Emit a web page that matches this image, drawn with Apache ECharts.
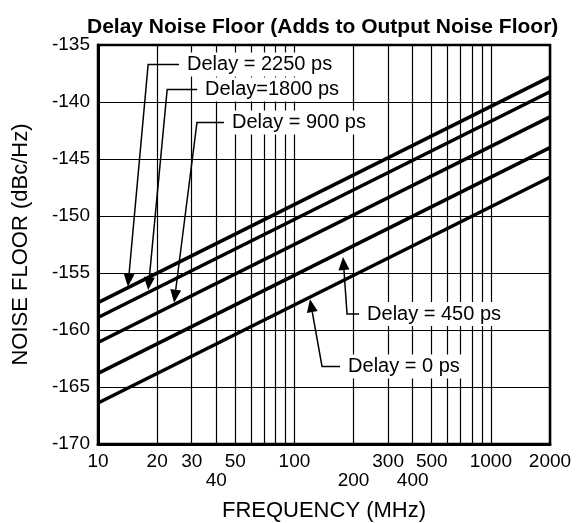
<!DOCTYPE html>
<html>
<head>
<meta charset="utf-8">
<title>Delay Noise Floor</title>
<script src="https://cdn.jsdelivr.net/npm/echarts@6/dist/echarts.min.js"></script>
<style>
  body { margin: 0; background: #fff; }
  #main { width: 577px; height: 523px; }
</style>
</head>
<body>
<div id="main"></div>
<script>
// frequency (MHz) at both ends of each line
var freq = [10, 2000];
// noise floor (dBc/Hz) at 10 MHz and 2000 MHz
var delay2250 = [-157.6, -137.8];
var delay1800 = [-158.9, -139.1];
var delay900 = [-161.1, -141.3];
var delay450 = [-163.8, -144.0];
var delay0 = [-166.4, -146.6];

// log grid and tick labels
var gridFreq = [10, 20, 30, 40, 50, 60, 70, 80, 90, 100, 200, 300, 400, 500, 600, 700, 800, 900, 1000, 2000];
var labelFreq = [10, 20, 30, 40, 50, 100, 200, 300, 400, 500, 1000, 2000];
var lowLabels = [40, 200, 400];

// callouts: text, arrow tip [MHz, dB], elbow [MHz, dB], text start (MHz)
var noteText = ['Delay = 2250 ps', 'Delay=1800 ps', 'Delay = 900 ps', 'Delay = 450 ps', 'Delay = 0 ps'];
var noteTip = [[14.2, -156.2], [18.0, -156.5], [24.4, -157.6], [176.8, -153.6], [120, -157.3]];
var noteElbow = [[18.0, -136.7], [22.5, -138.9], [31.9, -141.8], [185.3, -158.6], [138.2, -163.2]];
var noteStart = [28.4, 35.1, 48.1, 234.3, 187.5];

var FONT = "'Liberation Sans', Arial, sans-serif";
var lg = function (f) { return Math.log10(f); };

function toPairs(vals) {
  return freq.map(function (f, i) { return [lg(f), vals[i]]; });
}

var chart = echarts.init(document.getElementById('main'));

var lineStyle = { color: '#000', width: 3.5 };
var seriesList = [delay2250, delay1800, delay900, delay450, delay0].map(function (v) {
  return {
    type: 'line',
    data: toPairs(v),
    symbol: 'none',
    lineStyle: lineStyle,
    silent: true,
    z: 3
  };
});

var option = {
  animation: false,
  backgroundColor: '#fff',
  title: {
    text: 'Delay Noise Floor (Adds to Output Noise Floor)',
    left: 82,
    top: 12,
    textStyle: { fontFamily: FONT, fontSize: 21, fontWeight: 'bold', color: '#000' }
  },
  grid: {
    left: 98, right: 27, top: 45, bottom: 79,
    outerBoundsMode: 'none',
    show: true, borderColor: '#000', borderWidth: 2.5
  },
  xAxis: {
    type: 'value',
    min: lg(10),
    max: lg(2000),
    name: 'FREQUENCY (MHz)',
    nameLocation: 'middle',
    nameGap: 56,
    nameTextStyle: { fontFamily: FONT, fontSize: 22, color: '#000' },
    axisLine: { lineStyle: { color: '#000', width: 3 } },
    axisTick: { show: false, customValues: gridFreq.map(lg) },
    splitLine: { show: true, lineStyle: { color: '#000', width: 1.2 } },
    axisLabel: {
      customValues: labelFreq.map(lg),
      margin: 8,
      fontFamily: FONT, fontSize: 19, color: '#000', lineHeight: 19,
      formatter: function (v) {
        var n = Math.round(Math.pow(10, v));
        return lowLabels.indexOf(n) >= 0 ? '\n' + n : String(n);
      }
    }
  },
  yAxis: {
    type: 'value',
    min: -170,
    max: -135,
    interval: 5,
    name: 'NOISE FLOOR (dBc/Hz)',
    nameLocation: 'middle',
    nameGap: 66,
    nameTextStyle: { fontFamily: FONT, fontSize: 22, color: '#000' },
    axisLine: { show: true, lineStyle: { color: '#000', width: 3 } },
    axisTick: { show: false },
    splitLine: { show: true, lineStyle: { color: '#000', width: 1.2 } },
    axisLabel: { margin: 8, fontFamily: FONT, fontSize: 19, color: '#000' }
  },
  series: seriesList
};

chart.setOption(option);

// callouts with arrows, placed from data coordinates
function buildNotes() {
  var els = [];
  for (var i = 0; i < noteText.length; i++) {
    var tip = chart.convertToPixel({ gridIndex: 0 }, [lg(noteTip[i][0]), noteTip[i][1]]);
    var elb = chart.convertToPixel({ gridIndex: 0 }, [lg(noteElbow[i][0]), noteElbow[i][1]]);
    var tx = chart.convertToPixel({ gridIndex: 0 }, [lg(noteStart[i]), noteElbow[i][1]])[0];
    var dx = tip[0] - elb[0], dy = tip[1] - elb[1];
    var len = Math.sqrt(dx * dx + dy * dy);
    var ux = dx / len, uy = dy / len;
    var base = [tip[0] - ux * 13, tip[1] - uy * 13];
    var nx = -uy * 5.5, ny = ux * 5.5;
    els.push({
      type: 'polyline', z: 100, silent: true,
      shape: { points: [[tx - 8, elb[1]], elb, base] },
      style: { stroke: '#000', lineWidth: 1.5, fill: null }
    });
    els.push({
      type: 'polygon', z: 100, silent: true,
      shape: { points: [tip, [base[0] + nx, base[1] + ny], [base[0] - nx, base[1] - ny]] },
      style: { fill: '#000' }
    });
    els.push({
      type: 'text', z: 101, silent: true,
      x: tx - 4, y: elb[1],
      style: {
        text: noteText[i], font: '20px ' + FONT, fill: '#000',
        align: 'left', verticalAlign: 'middle',
        backgroundColor: '#fff', padding: [2, 4]
      }
    });
  }
  return els;
}

chart.setOption({ graphic: { elements: buildNotes() } });
</script>
</body>
</html>
